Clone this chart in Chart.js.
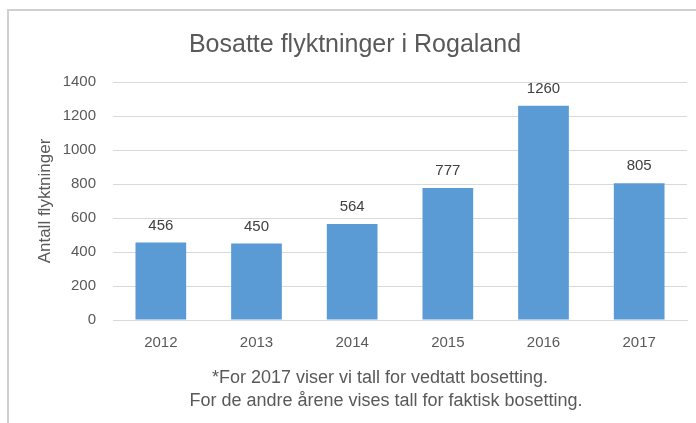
<!DOCTYPE html>
<html>
<head>
<meta charset="utf-8">
<script src="https://cdn.jsdelivr.net/npm/chart.js@4/dist/chart.umd.min.js"></script>
<style>
  html, body { margin: 0; padding: 0; background: #fff; overflow: hidden; }
  #frame { position: absolute; left: 7px; top: 9px; width: 900px; height: 600px; border: 2px solid #d0d0d0; box-sizing: border-box; }
  #c { position: absolute; left: 0; top: 0; }
</style>
</head>
<body>
<div id="frame"></div>
<canvas id="c" width="696" height="423"></canvas>
<script>
// data
var years = ['2012', '2013', '2014', '2015', '2016', '2017'];
var refugees = [456, 450, 564, 777, 1260, 805];
var yTicks = [0, 200, 400, 600, 800, 1000, 1200, 1400];

var titleText = 'Bosatte flyktninger i Rogaland';
var yTitle = 'Antall flyktninger';
var footnote = ['*For 2017 viser vi tall for vedtatt bosetting.',
                'For de andre årene vises tall for faktisk bosetting.'];

var FONT = '"Liberation Sans", Arial, sans-serif';

// verdier over søylene + tittel og fotnote
var extraText = {
    id: 'extraText',
    afterDatasetsDraw: function (chart) {
        var ctx = chart.ctx;
        var meta = chart.getDatasetMeta(0);
        ctx.save();
        ctx.textAlign = 'center';
        ctx.textBaseline = 'middle';

        ctx.font = '15px ' + FONT;
        ctx.fillStyle = '#404040';
        meta.data.forEach(function (bar, i) {
            ctx.fillText(String(refugees[i]), bar.x, bar.y - 17);
        });

        ctx.fillStyle = '#595959';
        ctx.font = '25px ' + FONT;
        ctx.fillText(titleText, 355, 45);

        ctx.font = '18px ' + FONT;
        ctx.fillText(footnote[0], 380, 378);
        ctx.fillText(footnote[1], 386, 401);
        ctx.restore();
    }
};

new Chart(document.getElementById('c'), {
    type: 'bar',
    data: {
        labels: years,
        datasets: [{
            data: refugees,
            backgroundColor: '#5b9bd5',
            borderWidth: 0,
            categoryPercentage: 0.53,
            barPercentage: 1
        }]
    },
    options: {
        responsive: false,
        animation: false,
        layout: { padding: { left: 0, right: 9, top: 82, bottom: 70 } },
        plugins: {
            legend: { display: false },
            tooltip: { enabled: false },
            title: { display: false }
        },
        scales: {
            x: {
                afterFit: function (scale) { scale.height = 33; },
                grid: { display: false, drawTicks: false },
                border: { color: '#d9d9d9', width: 1 },
                ticks: { color: '#595959', font: { family: FONT, size: 15 }, padding: 14 }
            },
            y: {
                min: 0,
                max: 1400,
                afterBuildTicks: function (scale) {
                    scale.ticks = yTicks.map(function (v) { return { value: v }; });
                },
                afterFit: function (scale) { scale.width = 113; },
                grid: { color: '#d9d9d9', lineWidth: 1, drawTicks: false },
                border: { display: false },
                ticks: {
                    color: '#595959',
                    font: { family: FONT, size: 15 },
                    padding: 17,
                    callback: function (v) { return String(v); }
                },
                title: {
                    display: true,
                    text: yTitle,
                    color: '#595959',
                    font: { family: FONT, size: 17, weight: 'normal' },
                    padding: { top: 35, bottom: 0 }
                }
            }
        }
    },
    plugins: [extraText]
});
</script>
</body>
</html>
